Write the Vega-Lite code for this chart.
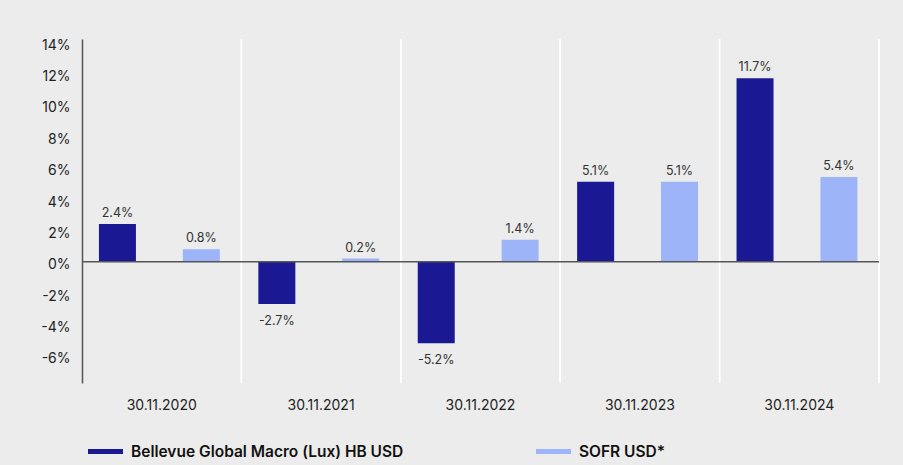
{
  "$schema": "https://vega.github.io/schema/vega-lite/v6.json",
  "autosize": {"type": "none"},
  "width": 797,
  "height": 344,
  "padding": {"left": 82, "top": 39, "right": 24, "bottom": 82},
  "background": "#ececec",
  "config": {
    "view": {"stroke": null},
    "font": "Inter",
    "axis": {"labelFont": "Inter", "labelColor": "#222222", "labelFontSize": 14, "ticks": false, "grid": false, "title": null},
    "axisY": {"labelOverlap": false, "labelBound": false}
  },
  "datasets": {
    "perf": [
      {"date": "30.11.2020", "series": "Bellevue Global Macro (Lux) HB USD", "value": 0.024},
      {"date": "30.11.2020", "series": "SOFR USD*", "value": 0.008},
      {"date": "30.11.2021", "series": "Bellevue Global Macro (Lux) HB USD", "value": -0.027},
      {"date": "30.11.2021", "series": "SOFR USD*", "value": 0.002},
      {"date": "30.11.2022", "series": "Bellevue Global Macro (Lux) HB USD", "value": -0.052},
      {"date": "30.11.2022", "series": "SOFR USD*", "value": 0.014},
      {"date": "30.11.2023", "series": "Bellevue Global Macro (Lux) HB USD", "value": 0.051},
      {"date": "30.11.2023", "series": "SOFR USD*", "value": 0.051},
      {"date": "30.11.2024", "series": "Bellevue Global Macro (Lux) HB USD", "value": 0.117},
      {"date": "30.11.2024", "series": "SOFR USD*", "value": 0.054}
    ],
    "zero": [{"v": 0}]
  },
  "data": {"name": "perf"},
  "layer": [
    {
      "mark": {"type": "rule", "color": "#ffffff", "strokeWidth": 1.5},
      "encoding": {
        "x": {"field": "date", "type": "nominal", "bandPosition": 1,
              "scale": {"paddingInner": 0, "paddingOuter": 0},
              "sort": null,
              "axis": {"labelAngle": 0, "domain": false, "labelPadding": 15, "labelFontSize": 14}}
      }
    },
    {
      "mark": {"type": "bar", "width": 37},
      "encoding": {
        "x": {"field": "date", "type": "nominal", "sort": null},
        "xOffset": {"field": "series", "type": "nominal", "sort": null,
                    "scale": {"paddingInner": 0.56, "paddingOuter": 0.23, "align": 0.44}},
        "y": {"field": "value", "type": "quantitative",
              "scale": {"domain": [-0.0774, 0.1421], "nice": false, "zero": false},
              "axis": {"format": ".0%", "values": [-0.06, -0.04, -0.02, 0, 0.02, 0.04, 0.06, 0.08, 0.1, 0.12, 0.14],
                       "tickCount": 30,
                       "labelExpr": "replace(datum.label, '\u2212', '-')",
                       "labelOverlap": false, "labelBound": false,
                       "domain": true, "domainColor": "#555555", "domainWidth": 1.5,
                       "labelPadding": 12, "labelOffset": 3}},
        "color": {"field": "series", "type": "nominal", "sort": null,
                  "scale": {"range": ["#1a1892", "#9db4f9"]},
                  "legend": {"orient": "none", "legendX": 6, "legendY": 395, "direction": "horizontal",
                             "title": null, "columns": 2, "columnPadding": 132,
                             "symbolType": "M-1,-0.143H1V0.143H-1Z", "symbolSize": 1225, "symbolStrokeWidth": 0,
                             "labelFont": "Inter", "labelFontSize": 15.5, "labelFontWeight": 600, "labelColor": "#111111",
                             "labelOffset": 8, "labelLimit": 400}}
      }
    },
    {
      "data": {"name": "zero"},
      "mark": {"type": "rule", "color": "#555555", "strokeWidth": 1.5},
      "encoding": {"y": {"field": "v", "type": "quantitative"}}
    },
    {
      "transform": [
        {"filter": "datum.value >= 0"},
        {"calculate": "replace(format(datum.value, '.1%'), '\u2212', '-')", "as": "label"}
      ],
      "mark": {"type": "text", "baseline": "bottom", "dy": -4, "fontSize": 12.5, "color": "#333333"},
      "encoding": {
        "x": {"field": "date", "type": "nominal", "sort": null},
        "xOffset": {"field": "series", "type": "nominal", "sort": null},
        "y": {"field": "value", "type": "quantitative"},
        "text": {"field": "label", "type": "nominal"}
      }
    },
    {
      "transform": [
        {"filter": "datum.value < 0"},
        {"calculate": "replace(format(datum.value, '.1%'), '\u2212', '-')", "as": "label"}
      ],
      "mark": {"type": "text", "baseline": "top", "dy": 11, "fontSize": 12.5, "color": "#333333"},
      "encoding": {
        "x": {"field": "date", "type": "nominal", "sort": null},
        "xOffset": {"field": "series", "type": "nominal", "sort": null},
        "y": {"field": "value", "type": "quantitative"},
        "text": {"field": "label", "type": "nominal"}
      }
    }
  ]
}
